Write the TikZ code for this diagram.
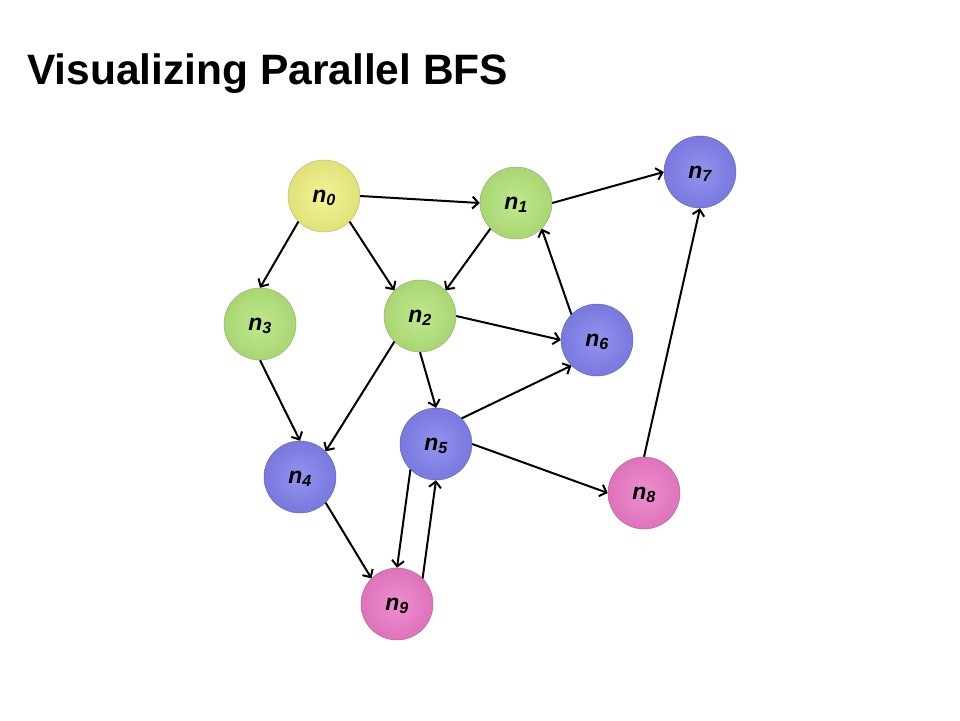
\documentclass[tikz,border=0pt]{standalone}
\usepackage{fontspec}
\setmainfont{Liberation Sans}
\usetikzlibrary{arrows.meta}
\definecolor{vyellow}{RGB}{240,240,130}
\definecolor{vgreen}{RGB}{180,228,122}
\definecolor{vblue}{RGB}{128,128,236}
\definecolor{vpink}{RGB}{236,122,198}
\tikzset{%
  >={Straight Barb[width=12pt,length=6pt]},
  % Specifications for style of nodes:
  vertex/.style = {
    circle,
    minimum size=72pt,
    inner sep=0pt,
    text centered,
    font=\fontsize{23}{27}\selectfont\bfseries\itshape
  },
  yellowv/.style = {vertex, inner color=vyellow!85!white, outer color=vyellow!94!black, draw=vyellow!75!black},
  greenv/.style = {vertex, inner color=vgreen!85!white, outer color=vgreen!94!black, draw=vgreen!75!black},
  bluev/.style = {vertex, inner color=vblue!85!white, outer color=vblue!94!black, draw=vblue!75!black},
  pinkv/.style = {vertex, inner color=vpink!85!white, outer color=vpink!94!black, draw=vpink!75!black},
  edge/.style = {->, line width=2pt},
}
\newcommand{\vlabel}[1]{\raisebox{-6pt}[0pt][0pt]{n\textsubscript{#1}}}
\begin{document}
\begin{tikzpicture}[x=1pt, y=-1pt]
  \useasboundingbox (0,0) rectangle (960,720);
  % title
  \node (title) [anchor=base west, font=\fontsize{42.5}{50}\selectfont\bfseries, inner sep=0pt]
    at (27,84) {Visualizing Parallel BFS};
  % nodes
  \node (n0) [yellowv] at (324,196) {\vlabel{0}};
  \node (n1) [greenv]  at (516,203) {\vlabel{1}};
  \node (n2) [greenv]  at (420,316) {\vlabel{2}};
  \node (n3) [greenv]  at (260,324) {\vlabel{3}};
  \node (n4) [bluev]   at (300,477) {\vlabel{4}};
  \node (n5) [bluev]   at (436,444) {\vlabel{5}};
  \node (n6) [bluev]   at (597,340) {\vlabel{6}};
  \node (n7) [bluev]   at (700,172) {\vlabel{7}};
  \node (n8) [pinkv]   at (644,493) {\vlabel{8}};
  \node (n9) [pinkv]   at (397,604) {\vlabel{9}};
  % lines
  \draw[edge] (n0.east) -- (n1.west);
  \draw[edge] (n1.east) -- (n7.west);
  \draw[edge] (n0.south west) -- (n3.north);
  \draw[edge] (n0.south east) -- (n2.north west);
  \draw[edge] (n1.south west) -- (n2.north east);
  \draw[edge] (n6.north west) -- (n1.south east);
  \draw[edge] (n2.east) -- (n6.west);
  \draw[edge] (n2.south west) -- (n4.north east);
  \draw[edge] (n2.south) -- (n5.north);
  \draw[edge] (n3.south) -- (n4.north);
  \draw[edge] (n5.north east) -- (n6.south west);
  \draw[edge] (n5.east) -- (n8.west);
  \draw[edge] (n8.north) -- (n7.south);
  \draw[edge] (n4.south east) -- (n9.north west);
  \draw[edge] (n5.south west) -- (n9.north);
  \draw[edge] (n9.north east) -- (n5.south);
\end{tikzpicture}
\end{document}
